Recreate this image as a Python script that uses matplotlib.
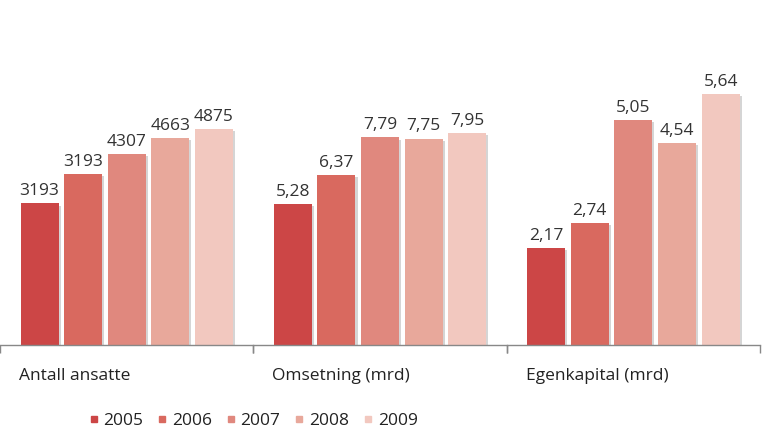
import matplotlib
matplotlib.use("Agg")
import matplotlib.pyplot as plt
import matplotlib.patheffects as pe
from matplotlib.lines import Line2D

plt.rcParams['font.family'] = ['Open Sans', 'DejaVu Sans']

years = ['2005', '2006', '2007', '2008', '2009']
groups = ['Antall ansatte', 'Omsetning (mrd)', 'Egenkapital (mrd)']
colors = ['#cc4646', '#d9695f', '#e0887e', '#e8a89b', '#f2c8bf']

# bar heights (2006 in the first group is drawn taller than its label)
ansatte = [3193, 3860, 4307, 4663, 4875]
omsetning = [5.28, 6.37, 7.79, 7.75, 7.95]
egenkapital = [2.17, 2.74, 5.05, 4.54, 5.64]

ansatte_labels = ['3193', '3193', '4307', '4663', '4875']
omsetning_labels = ['5,28', '6,37', '7,79', '7,75', '7,95']
egenkapital_labels = ['2,17', '2,74', '5,05', '4,54', '5,64']

series = [ansatte, omsetning, egenkapital]
labels = [ansatte_labels, omsetning_labels, egenkapital_labels]
ytops = [6880, 11.45, 6.85]

W, H = 762, 442
fig = plt.figure(figsize=(W / 100, H / 100), dpi=100)

seg = 253.3
bottom_px = 345
top_px = 40
xl = (-0.906, 4.9)

for g in range(3):
    ax = fig.add_axes([g * seg / W, (H - bottom_px) / H, seg / W, (bottom_px - top_px) / H])
    x = range(len(years))
    bars = ax.bar(x, series[g], width=0.87, color=colors, zorder=2)
    for b in bars:
        b.set_path_effects([pe.SimplePatchShadow(offset=(1.5, -1.5), shadow_rgbFace='#888888', alpha=0.35),
                            pe.Normal()])
    for xi, v, t in zip(x, series[g], labels[g]):
        ax.annotate(t, (xi, v), xytext=(0, 3), textcoords='offset points',
                    ha='center', va='bottom', fontsize=12.5, color='#333333')
    ax.set_xlim(*xl)
    ax.set_ylim(0, ytops[g])
    for s in ['top', 'right', 'left']:
        ax.spines[s].set_visible(False)
    ax.spines['bottom'].set_color('#888888')
    ax.spines['bottom'].set_linewidth(1.0)
    ax.set_yticks([])
    ax.set_xticks([xl[0], xl[1]])
    ax.set_xticklabels([])
    ax.tick_params(axis='x', direction='out', length=6, color='#888888', width=1)
    ax.patch.set_alpha(0)
    ax.text(0.075, -0.1, groups[g], transform=ax.transAxes, ha='left', va='center',
            fontsize=12.5, color='#222222')

handles = [Line2D([], [], marker='s', linestyle='none', markersize=5,
                  markerfacecolor=c, markeredgecolor=c) for c in colors]
fig.legend(handles, years, loc='center', bbox_to_anchor=(0.332, 0.047), ncol=5,
           frameon=False, fontsize=12.5, handletextpad=0.25, columnspacing=0.8,
           handlelength=0.6, labelcolor='#222222')

fig.savefig('out.png', dpi=100)
